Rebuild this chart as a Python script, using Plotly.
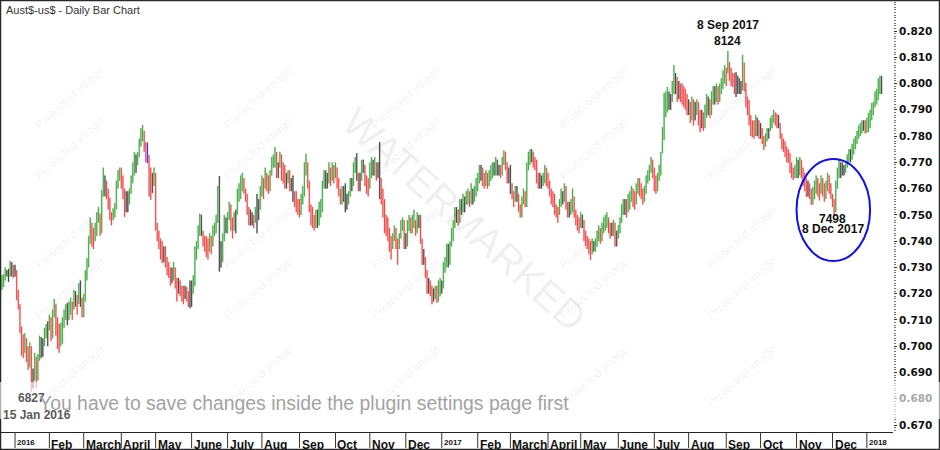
import pandas as pd
import plotly.graph_objects as go

# ---------------- data (pips, 1 pip = 0.0001) ----------------
# daily bars from 21 Dec 2015 (weekdays), open = previous close
first_open = 7200
high_pips = [
    7245, 7270, 7275, 7300, 7290, 7295, 7325, 7320, 7310,  # Dec 15
    7310, 7290, 7215, 7160, 7075, 7045, 7050, 7030, 7000, 7015, 7000, 6915, 6975, 6960, 6970, 7040, 7035, 7030, 7070, 7085, 7095,  # Jan 16
    7120, 7110, 7140, 7180, 7160, 7110, 7085, 7090, 7110, 7140, 7160, 7165, 7170, 7185, 7170, 7215, 7210, 7195, 7240, 7250, 7185,  # Feb
    7200, 7290, 7335, 7420, 7490, 7470, 7450, 7470, 7510, 7530, 7505, 7595, 7680, 7650, 7630, 7600, 7565, 7510, 7525, 7545, 7630, 7670, 7680,  # Mar
    7680, 7650, 7600, 7590, 7590, 7600, 7650, 7700, 7740, 7730, 7740, 7790, 7830, 7842, 7820, 7777, 7775, 7728, 7680, 7660, 7680,  # Apr
    7660, 7470, 7440, 7410, 7400, 7380, 7380, 7340, 7320, 7300, 7300, 7320, 7300, 7260, 7260, 7250, 7230, 7230, 7230, 7225, 7210, 7250,  # May
    7250, 7270, 7380, 7400, 7460, 7505, 7500, 7440, 7420, 7420, 7410, 7430, 7420, 7460, 7470, 7500, 7610, 7648, 7400, 7430, 7500, 7490,  # Jun
    7510, 7550, 7540, 7490, 7510, 7520, 7600, 7620, 7650, 7660, 7640, 7600, 7580, 7530, 7520, 7510, 7500, 7530, 7580, 7560, 7610,  # Jul
    7650, 7640, 7680, 7660, 7650, 7670, 7720, 7730, 7758, 7740, 7700, 7740, 7730, 7700, 7690, 7660, 7670, 7670, 7640, 7650, 7590, 7590, 7560,  # Aug
    7560, 7580, 7610, 7700, 7733, 7700, 7630, 7540, 7530, 7500, 7520, 7520, 7550, 7560, 7630, 7670, 7670, 7660, 7700, 7680, 7700, 7690,  # Sep
    7700, 7680, 7640, 7600, 7610, 7610, 7620, 7580, 7590, 7640, 7640, 7700, 7720, 7735, 7660, 7660, 7710, 7710, 7690, 7650, 7640,  # Oct
    7700, 7720, 7710, 7720, 7700, 7700, 7778, 7640, 7600, 7560, 7500, 7490, 7450, 7420, 7430, 7460, 7450, 7410, 7430, 7480, 7490, 7480,  # Nov
    7430, 7480, 7500, 7490, 7500, 7520, 7480, 7510, 7500, 7500, 7410, 7370, 7340, 7290, 7260, 7250, 7230, 7220, 7230, 7230, 7250, 7260,  # Dec
    7250, 7320, 7340, 7390, 7390, 7400, 7450, 7480, 7530, 7530, 7520, 7560, 7560, 7580, 7570, 7590, 7600, 7590, 7620, 7600, 7610, 7640,  # Jan 17
    7660, 7690, 7690, 7680, 7660, 7670, 7660, 7670, 7690, 7700, 7700, 7720, 7710, 7690, 7690, 7720, 7745, 7740, 7700, 7680,  # Feb
    7690, 7620, 7590, 7610, 7610, 7580, 7540, 7570, 7600, 7590, 7700, 7740, 7750, 7750, 7740, 7720, 7710, 7660, 7660, 7650, 7660, 7690, 7680,  # Mar
    7660, 7630, 7600, 7590, 7580, 7540, 7530, 7560, 7600, 7590, 7620, 7610, 7550, 7550, 7560, 7600, 7570, 7520, 7500, 7490,  # Apr
    7510, 7500, 7480, 7440, 7420, 7410, 7400, 7410, 7400, 7410, 7440, 7460, 7450, 7470, 7490, 7500, 7510, 7490, 7470, 7470, 7480, 7470, 7440,  # May
    7460, 7490, 7540, 7560, 7560, 7560, 7580, 7590, 7610, 7600, 7590, 7620, 7640, 7640, 7620, 7600, 7610, 7650, 7670, 7690, 7720, 7710,  # Jun
    7680, 7650, 7660, 7690, 7740, 7834, 7964, 7970, 7987, 7970, 7960, 8010, 8071, 8040, 8025, 8010, 8000, 8000, 7990, 7980, 7960,  # Jul
    7940, 7930, 7950, 7940, 7930, 7940, 7930, 7900, 7900, 7890, 7920, 7960, 7950, 7940, 7970, 7990, 7990, 8000, 7990, 8000, 8020, 8050, 8070,  # Aug
    8060, 8124, 8082, 8060, 8040, 8040, 8044, 8030, 8020, 8010, 8109, 8080, 8002, 7950, 7937, 7880, 7860, 7860, 7880, 7870, 7860,  # Sep
    7850, 7830, 7800, 7810, 7830, 7830, 7870, 7880, 7900, 7890, 7885, 7880, 7850, 7810, 7790, 7780, 7760, 7750, 7735, 7700, 7680, 7690,  # Oct
    7720, 7710, 7720, 7710, 7680, 7660, 7640, 7630, 7620, 7600, 7606, 7630, 7650, 7640, 7620, 7650, 7640, 7620, 7630, 7660, 7650, 7620,  # Nov
    7580, 7560, 7630, 7680, 7710, 7700, 7700, 7690, 7695, 7730, 7750, 7750, 7770, 7790, 7800, 7820, 7840, 7850, 7860, 7860, 7860,  # Dec
    7870, 7888, 7900, 7926, 7930, 7970, 7980, 8020, 8030, 8029,  # Jan 18
]
low_pips = [
    7185, 7215, 7225, 7250, 7265, 7245, 7265, 7265, 7260,
    7265, 7175, 7140, 7050, 6965, 6955, 6975, 6940, 6910, 6920, 6827, 6840, 6870, 6840, 6870, 6945, 6955, 6960, 7000, 7030, 7000,
    7060, 7020, 7030, 7110, 7040, 6990, 6975, 7000, 7010, 7070, 7100, 7080, 7100, 7120, 7100, 7140, 7150, 7120, 7160, 7150, 7110,
    7110, 7170, 7250, 7300, 7390, 7380, 7370, 7400, 7420, 7470, 7420, 7430, 7570, 7570, 7560, 7520, 7480, 7460, 7480, 7490, 7520, 7600, 7630,
    7600, 7560, 7492, 7510, 7510, 7540, 7580, 7620, 7650, 7660, 7690, 7720, 7760, 7780, 7740, 7700, 7697, 7570, 7557, 7583, 7610,
    7440, 7400, 7370, 7330, 7316, 7320, 7300, 7270, 7260, 7230, 7240, 7250, 7220, 7170, 7200, 7190, 7170, 7160, 7180, 7170, 7150, 7145,
    7150, 7200, 7230, 7330, 7370, 7420, 7420, 7380, 7360, 7340, 7330, 7360, 7350, 7380, 7420, 7430, 7470, 7284, 7300, 7320, 7400, 7430,
    7430, 7480, 7440, 7410, 7440, 7430, 7500, 7550, 7560, 7590, 7580, 7550, 7500, 7460, 7460, 7460, 7450, 7470, 7430, 7480, 7520,
    7570, 7560, 7600, 7590, 7580, 7590, 7650, 7680, 7680, 7640, 7640, 7680, 7630, 7620, 7600, 7600, 7620, 7590, 7590, 7550, 7530, 7510, 7500,
    7490, 7500, 7540, 7570, 7650, 7600, 7510, 7460, 7450, 7440, 7450, 7450, 7460, 7490, 7510, 7600, 7600, 7600, 7620, 7610, 7630, 7620,
    7640, 7600, 7570, 7540, 7540, 7550, 7510, 7520, 7540, 7570, 7590, 7610, 7660, 7630, 7590, 7590, 7630, 7660, 7610, 7580, 7570,
    7600, 7640, 7650, 7650, 7630, 7640, 7560, 7540, 7490, 7430, 7420, 7400, 7360, 7330, 7370, 7400, 7370, 7310, 7370, 7410, 7440, 7370,
    7370, 7380, 7440, 7430, 7430, 7450, 7420, 7430, 7450, 7390, 7310, 7310, 7260, 7200, 7200, 7190, 7160, 7170, 7180, 7165, 7170, 7190,
    7200, 7220, 7280, 7300, 7300, 7310, 7380, 7400, 7450, 7470, 7460, 7470, 7500, 7510, 7510, 7540, 7540, 7530, 7540, 7540, 7550, 7570,
    7590, 7620, 7630, 7610, 7600, 7610, 7600, 7610, 7630, 7640, 7650, 7650, 7650, 7650, 7640, 7650, 7690, 7670, 7620, 7620,
    7580, 7560, 7530, 7550, 7550, 7510, 7490, 7490, 7540, 7530, 7530, 7670, 7690, 7700, 7680, 7670, 7620, 7600, 7600, 7600, 7610, 7620, 7610,
    7600, 7570, 7540, 7530, 7500, 7490, 7470, 7500, 7530, 7540, 7550, 7520, 7490, 7490, 7500, 7510, 7490, 7460, 7440, 7430,
    7450, 7450, 7400, 7380, 7370, 7350, 7329, 7350, 7360, 7360, 7380, 7400, 7390, 7400, 7430, 7440, 7450, 7430, 7410, 7420, 7420, 7380, 7380,
    7410, 7430, 7470, 7500, 7500, 7490, 7510, 7520, 7550, 7530, 7520, 7540, 7580, 7570, 7560, 7540, 7550, 7580, 7620, 7630, 7660, 7640,
    7590, 7580, 7590, 7630, 7650, 7735, 7785, 7872, 7890, 7900, 7900, 7930, 7960, 7960, 7930, 7940, 7930, 7920, 7910, 7900, 7880,
    7880, 7850, 7860, 7840, 7860, 7880, 7840, 7815, 7830, 7820, 7830, 7870, 7880, 7870, 7880, 7920, 7920, 7930, 7920, 7930, 7960, 7980, 8000,
    7990, 8040, 8010, 7990, 7987, 7960, 7949, 7960, 7960, 7960, 7975, 7970, 7910, 7880, 7840, 7800, 7796, 7790, 7800, 7800, 7790,
    7790, 7770, 7747, 7760, 7780, 7790, 7820, 7830, 7850, 7840, 7830, 7830, 7790, 7750, 7740, 7720, 7700, 7698, 7660, 7640, 7633, 7640,
    7640, 7640, 7650, 7640, 7610, 7590, 7568, 7570, 7560, 7538, 7540, 7560, 7580, 7570, 7555, 7580, 7570, 7550, 7560, 7590, 7580, 7560,
    7530, 7498, 7510, 7600, 7640, 7640, 7650, 7650, 7660, 7680, 7700, 7700, 7710, 7730, 7750, 7770, 7790, 7800, 7810, 7820, 7810,
    7812, 7815, 7830, 7860, 7880, 7910, 7920, 7937, 7960, 7960,
]
close_pips = [
    7230, 7245, 7260, 7285, 7280, 7270, 7300, 7290, 7285,
    7290, 7190, 7160, 7070, 6990, 6995, 7010, 6955, 6935, 6995, 6875, 6880, 6960, 6890, 6955, 7025, 6970, 7020, 7045, 7060, 7075,
    7090, 7060, 7120, 7150, 7060, 7070, 7030, 7050, 7080, 7120, 7130, 7120, 7160, 7140, 7140, 7200, 7170, 7180, 7220, 7175, 7135,
    7190, 7270, 7320, 7410, 7460, 7400, 7430, 7440, 7500, 7500, 7440, 7580, 7600, 7620, 7590, 7540, 7500, 7490, 7500, 7530, 7620, 7650, 7665,
    7640, 7570, 7520, 7560, 7540, 7580, 7620, 7660, 7700, 7690, 7720, 7760, 7790, 7820, 7750, 7730, 7710, 7640, 7620, 7630, 7650,
    7450, 7420, 7390, 7370, 7340, 7350, 7320, 7300, 7280, 7260, 7270, 7280, 7240, 7220, 7240, 7220, 7200, 7190, 7210, 7195, 7180, 7230,
    7230, 7240, 7350, 7380, 7440, 7490, 7430, 7410, 7400, 7370, 7380, 7400, 7395, 7440, 7440, 7480, 7600, 7380, 7330, 7410, 7480, 7450,
    7490, 7540, 7450, 7470, 7480, 7500, 7590, 7600, 7600, 7630, 7600, 7570, 7520, 7480, 7500, 7470, 7480, 7510, 7500, 7530, 7600,
    7610, 7620, 7650, 7620, 7600, 7660, 7700, 7700, 7720, 7660, 7690, 7720, 7640, 7680, 7620, 7640, 7650, 7610, 7620, 7570, 7560, 7540, 7520,
    7530, 7570, 7590, 7660, 7690, 7620, 7530, 7500, 7480, 7460, 7510, 7460, 7530, 7530, 7610, 7650, 7620, 7640, 7660, 7650, 7680, 7650,
    7660, 7620, 7590, 7570, 7580, 7590, 7530, 7560, 7580, 7620, 7620, 7680, 7690, 7640, 7610, 7640, 7690, 7680, 7620, 7610, 7600,
    7660, 7680, 7680, 7690, 7650, 7670, 7590, 7560, 7510, 7460, 7470, 7440, 7390, 7380, 7410, 7440, 7380, 7390, 7420, 7460, 7470, 7390,
    7390, 7460, 7470, 7460, 7480, 7470, 7440, 7490, 7480, 7400, 7340, 7330, 7280, 7230, 7240, 7210, 7190, 7200, 7210, 7190, 7220, 7215,
    7240, 7300, 7320, 7370, 7330, 7390, 7430, 7460, 7510, 7500, 7490, 7540, 7530, 7550, 7540, 7580, 7570, 7550, 7590, 7560, 7580, 7600,
    7640, 7660, 7670, 7630, 7630, 7650, 7630, 7650, 7660, 7670, 7680, 7690, 7670, 7680, 7660, 7710, 7720, 7680, 7640, 7660,
    7600, 7570, 7560, 7590, 7570, 7530, 7500, 7550, 7580, 7550, 7680, 7710, 7720, 7730, 7690, 7700, 7640, 7620, 7640, 7620, 7640, 7660, 7640,
    7620, 7580, 7560, 7560, 7530, 7510, 7500, 7540, 7580, 7560, 7600, 7540, 7510, 7520, 7530, 7560, 7510, 7480, 7470, 7470,
    7480, 7470, 7420, 7410, 7400, 7380, 7360, 7390, 7380, 7390, 7420, 7440, 7410, 7450, 7460, 7480, 7480, 7440, 7450, 7440, 7460, 7420, 7430,
    7440, 7470, 7520, 7540, 7510, 7540, 7550, 7560, 7580, 7560, 7550, 7600, 7610, 7590, 7580, 7570, 7590, 7630, 7650, 7670, 7690, 7680,
    7600, 7610, 7640, 7670, 7730, 7820, 7900, 7930, 7950, 7910, 7940, 7990, 8030, 7980, 7960, 7990, 7950, 7960, 7940, 7920, 7900,
    7900, 7890, 7900, 7870, 7900, 7910, 7880, 7870, 7850, 7840, 7880, 7930, 7910, 7900, 7930, 7960, 7950, 7970, 7940, 7980, 7990, 8020, 8050,
    8050, 8100, 8030, 8020, 8000, 7990, 7980, 8010, 8000, 7990, 8090, 7990, 7940, 7900, 7860, 7830, 7810, 7830, 7840, 7830, 7830,
    7810, 7790, 7770, 7790, 7800, 7810, 7850, 7860, 7880, 7870, 7860, 7850, 7800, 7770, 7760, 7740, 7720, 7720, 7680, 7660, 7650, 7670,
    7680, 7660, 7690, 7670, 7630, 7610, 7590, 7600, 7580, 7560, 7570, 7600, 7620, 7600, 7590, 7620, 7600, 7580, 7600, 7620, 7610, 7580,
    7550, 7510, 7610, 7660, 7690, 7660, 7680, 7670, 7680, 7710, 7730, 7720, 7740, 7760, 7780, 7800, 7820, 7830, 7840, 7850, 7830,
    7830, 7840, 7870, 7900, 7910, 7950, 7940, 7990, 8010, 8000,
]
highlight_dates = ["2016-04-25"]

month_starts = ["2016-01-01", "2016-02-01", "2016-03-01", "2016-04-01", "2016-05-02", "2016-06-01",
                "2016-07-01", "2016-08-01", "2016-09-01", "2016-10-03", "2016-11-01", "2016-12-01",
                "2017-01-02", "2017-02-01", "2017-03-01", "2017-04-03", "2017-05-01", "2017-06-01",
                "2017-07-03", "2017-08-01", "2017-09-01", "2017-10-02", "2017-11-01", "2017-12-01",
                "2018-01-01"]
month_labels = ["2016", "Feb", "March", "April", "May", "June", "July", "Aug", "Sep", "Oct", "Nov", "Dec",
                "2017", "Feb", "March", "April", "May", "June", "July", "Aug", "Sep", "Oct", "Nov", "Dec",
                "2018"]
y_ticks = [0.67, 0.68, 0.69, 0.70, 0.71, 0.72, 0.73, 0.74, 0.75, 0.76, 0.77, 0.78, 0.79, 0.80, 0.81, 0.82]
y_tick_labels = ["0.670", "0.680", "0.690", "0.700", "0.710", "0.720", "0.730", "0.740",
                 "0.750", "0.760", "0.770", "0.780", "0.790", "0.800", "0.810", "0.820"]

# ---------------- build ----------------
n = len(close_pips)
dates = pd.bdate_range("2015-12-21", periods=n)
H = [v / 10000 for v in high_pips]
L = [v / 10000 for v in low_pips]
C = [v / 10000 for v in close_pips]
O = [first_open / 10000] + C[:-1]

hl_set = set(pd.to_datetime(highlight_dates))
groups = {"green": [], "red": [], "black": [], "blue": []}
for i in range(n):
    if dates[i] in hl_set:
        g = "blue"
    elif i == 0:
        g = "black"
    elif H[i] > H[i - 1] and L[i] >= L[i - 1]:
        g = "green"
    elif L[i] < L[i - 1] and H[i] <= H[i - 1]:
        g = "red"
    else:
        g = "black"
    groups[g].append(i)

colors = {"green": ("#a6dca6", "#2a9f2a"), "red": ("#ffb0b0", "#f22a2a"),
          "black": ("#b0b0b0", "#2a2a2a"), "blue": ("#a8a8ff", "#1414ff")}

fig = go.Figure()
for layer, width in ((0, 1.7), (1, 0.8)):
    for g, idx in groups.items():
        col = colors[g][layer]
        fig.add_trace(go.Ohlc(
            x=[dates[i] for i in idx], open=[O[i] for i in idx], high=[H[i] for i in idx],
            low=[L[i] for i in idx], close=[C[i] for i in idx],
            increasing=dict(line=dict(color=col, width=width)),
            decreasing=dict(line=dict(color=col, width=width)),
            tickwidth=0.25, showlegend=False, hoverinfo="skip"))

W, Hh = 940, 450
ml, mr, mt, mb = 1, 47, 1, 18
pw, ph = W - ml - mr, Hh - mt - mb


def px2paper(px, py):
    return (px - ml) / pw, (Hh - mb - py) / ph


shapes = []
annotations = []

# frame around whole picture
fx0, fy1 = px2paper(0.5, 0.5)
fx1, fy0 = px2paper(939.5, 449.5)
shapes.append(dict(type="rect", xref="paper", yref="paper", x0=fx0, x1=fx1, y0=fy0, y1=fy1,
                   line=dict(color="#2a2a2a", width=1.5), layer="above"))

# month separators + labels
_, sep_y0 = px2paper(0, 448)
_, lab_top = px2paper(0, 436)
_, yr_top = px2paper(0, 436.5)
for d, lab in zip(month_starts, month_labels):
    shapes.append(dict(type="line", xref="x", yref="paper", x0=d, x1=d, y0=sep_y0, y1=0,
                       line=dict(color="#333", width=1)))
    is_year = lab.isdigit()
    annotations.append(dict(xref="x", yref="paper", x=d, y=yr_top if is_year else lab_top,
                            xanchor="left", yanchor="top", xshift=0, showarrow=False, text=lab,
                            font=dict(family="Liberation Sans", size=8 if is_year else 12,
                                      color="#111", weight="bold")))

# ellipse around December low
shapes.append(dict(type="circle", xref="x", yref="y", x0="2017-11-01", x1="2018-01-03",
                   y0=0.7324, y1=0.7713, line=dict(color="#1010f0", width=2)))

# "Protected image" watermark tiles
for cx in (30, 218, 406, 594, 782):
    for cy in (60, 148, 237, 325, 413):
        xp, yp = px2paper(cx, cy)
        annotations.append(dict(xref="paper", yref="paper", x=xp, y=yp, showarrow=False,
                                text="Protected image", textangle=-42,
                                font=dict(family="Liberation Sans", size=12, color="rgba(0,0,0,0.07)")))
# big watermark
xp, yp = px2paper(465, 220)
annotations.append(dict(xref="paper", yref="paper", x=xp, y=yp, showarrow=False, text="WATERMARKED",
                        textangle=42,
                        font=dict(family="Liberation Sans", size=40, color="rgba(0,0,0,0.07)")))

# title
xp, yp = px2paper(4, 10)
annotations.append(dict(xref="paper", yref="paper", x=xp, y=yp, xanchor="left", yanchor="middle",
                        showarrow=False, text="Aust$-us$ - Daily Bar Chart",
                        font=dict(family="Liberation Sans", size=11, color="#333")))

# swing labels
lab_font = dict(family="Liberation Sans", size=12, color="#111", weight="bold")
annotations += [
    dict(x="2017-09-04", y=0.8223, text="8 Sep 2017", showarrow=False, font=lab_font),
    dict(x="2017-09-04", y=0.8162, text="8124", showarrow=False, font=lab_font),
    dict(x="2017-12-01", y=0.7484, text="7498", showarrow=False, font=lab_font),
    dict(x="2017-12-01", y=0.7446, text="8 Dec 2017", showarrow=False, font=lab_font),
    dict(x="2016-01-15", y=0.6803, text="6827", showarrow=False,
         font=dict(family="Liberation Sans", size=12, color="#5a5a5a", weight="bold")),
    dict(x="2016-01-15", y=0.6738, text="15 Jan 2016", showarrow=False, xshift=6,
         font=dict(family="Liberation Sans", size=12, color="#5a5a5a", weight="bold")),
]

# plugin notice band
ox0, oy1 = px2paper(-2, 382)
ox1, oy0 = px2paper(942, 419)
shapes.append(dict(type="rect", xref="paper", yref="paper", x0=ox0, x1=ox1, y0=oy0, y1=oy1,
                   fillcolor="rgba(255,255,255,0.62)", line=dict(width=0), layer="above"))
xp, yp = px2paper(37, 403)
annotations.append(dict(xref="paper", yref="paper", x=xp, y=yp, xanchor="left", yanchor="middle",
                        showarrow=False, text="You have to save changes inside the plugin settings page first",
                        font=dict(family="Liberation Sans", size=19.4, color="#a3a3a3")))

fig.update_layout(
    width=W, height=Hh, margin=dict(l=ml, r=mr, t=mt, b=mb, pad=0, autoexpand=False),
    paper_bgcolor="white", plot_bgcolor="white",
    shapes=shapes, annotations=annotations, showlegend=False,
    xaxis=dict(type="date", range=["2015-12-21 10:00", "2018-01-23"],
               rangebreaks=[dict(bounds=["sat", "mon"])],
               rangeslider=dict(visible=False), showticklabels=False, ticks="",
               showgrid=False, zeroline=False, showline=True, linecolor="#222", linewidth=1,
               automargin=False, fixedrange=True),
    yaxis=dict(side="right", range=[0.66735, 0.83142], tickvals=y_ticks, ticktext=y_tick_labels,
               ticks="outside", ticklen=3, tickcolor="#333", tickwidth=1,
               tickfont=dict(family="DejaVu Sans", size=10.5, color="#111", weight="bold"),
               showgrid=False, zeroline=False, showline=False, automargin=False,
               minor=dict(dtick=0.001, tick0=0.67, ticks="outside", ticklen=1.5, tickcolor="#777",
                          showgrid=False),
               fixedrange=True),
)

fig.write_html("out.html", config={"displayModeBar": False},
               post_script="document.body.style.margin='0';document.body.style.overflow='hidden';")
